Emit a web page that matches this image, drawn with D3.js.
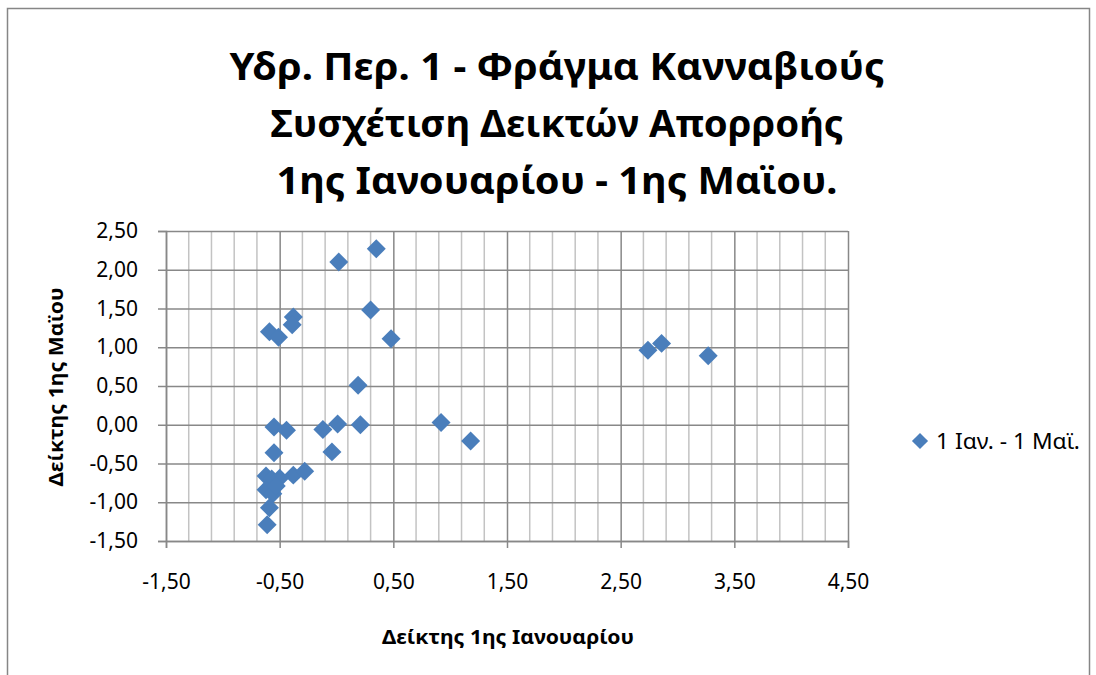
<!DOCTYPE html>
<html>
<head>
<meta charset="utf-8">
<script src="https://cdn.jsdelivr.net/npm/d3@7"></script>
<style>
  body { margin: 0; background: #fff; }
  text { font-family: "Noto Sans", "Open Sans", sans-serif; fill: #000; }
</style>
</head>
<body>
<div id="chart"></div>
<script>
// Data
const titleLines = ["Υδρ. Περ. 1 - Φράγμα Κανναβιούς", "Συσχέτιση Δεικτών Απορροής", "1ης Ιανουαρίου - 1ης Μαϊου."];
const xTitle = "Δείκτης 1ης Ιανουαρίου";
const yTitle = "Δείκτης 1ης Μαϊου";
const seriesName = "1 Ιαν. - 1 Μαϊ.";

const xValues = [0.02, 0.35, 0.30, 0.48, -0.38, -0.39, -0.59, -0.51, 0.19, 0.92, 1.18, 2.74, 2.86, 3.27,
    -0.55, -0.44, -0.55, -0.12, 0.01, 0.21, -0.04,
    -0.62, -0.57, -0.50, -0.38, -0.28, -0.62, -0.56, -0.53, -0.59, -0.61];
const yValues = [2.10, 2.27, 1.48, 1.11, 1.39, 1.29, 1.20, 1.13, 0.51, 0.03, -0.21, 0.96, 1.05, 0.89,
    -0.03, -0.07, -0.36, -0.06, 0.01, 0.00, -0.35,
    -0.66, -0.70, -0.69, -0.65, -0.60, -0.84, -0.89, -0.79, -1.07, -1.29];

const xTicks = [-1.5, -0.5, 0.5, 1.5, 2.5, 3.5, 4.5];
const yTicks = [-1.5, -1.0, -0.5, 0.0, 0.5, 1.0, 1.5, 2.0, 2.5];
const xMinorStep = 0.2;

const data = xValues.map((x, i) => ({ x: x, y: yValues[i] }));

// Layout
const W = 1096, H = 675;
const plot = { left: 166, right: 848, top: 231, bottom: 541 };
const blue = "#4a7ebb";

const locale = d3.formatLocale({ decimal: ",", thousands: ".", grouping: [3], currency: ["", "€"], minus: "-" });
const fmt = locale.format(".2f");

const svg = d3.select("#chart")
    .append("svg")
    .attr("width", W)
    .attr("height", H);

// chart frame
svg.append("rect")
    .attr("x", 7.5).attr("y", 8.5)
    .attr("width", 1082).attr("height", 720)
    .attr("fill", "#fff")
    .attr("stroke", "#868686")
    .attr("stroke-width", 1.5);

// Scales
const x = d3.scaleLinear().domain([-1.5, 4.5]).range([plot.left, plot.right]);
const y = d3.scaleLinear().domain([-1.5, 2.5]).range([plot.bottom, plot.top]);

// minor vertical grid
const minorX = d3.range(0, 31).map(i => -1.5 + i * xMinorStep).filter(v => !xTicks.some(t => Math.abs(t - v) < 1e-6));
svg.append("g")
    .selectAll("line")
    .data(minorX)
    .join("line")
    .attr("x1", d => x(d)).attr("x2", d => x(d))
    .attr("y1", plot.top).attr("y2", plot.bottom)
    .attr("stroke", "#c3c3c3")
    .attr("stroke-width", 1.5);

// major grid
svg.append("g")
    .attr("class", "grid")
    .attr("transform", `translate(0,${plot.bottom})`)
    .call(d3.axisBottom(x).tickValues(xTicks).tickSize(-(plot.bottom - plot.top)).tickFormat(""))
    .call(g => g.select(".domain").remove())
    .call(g => g.selectAll("line").attr("stroke", "#888").attr("stroke-width", 1.5));

svg.append("g")
    .attr("class", "grid")
    .attr("transform", `translate(${plot.left},0)`)
    .call(d3.axisLeft(y).tickValues(yTicks).tickSize(-(plot.right - plot.left)).tickFormat(""))
    .call(g => g.select(".domain").remove())
    .call(g => g.selectAll("line").attr("stroke", "#888").attr("stroke-width", 1.5));

// Axes
svg.append("g")
    .attr("transform", `translate(0,${plot.bottom})`)
    .call(d3.axisBottom(x).tickValues(xTicks).tickSize(7).tickPadding(26).tickFormat(fmt))
    .call(g => g.select(".domain").attr("stroke", "#888").attr("stroke-width", 1.5))
    .call(g => g.selectAll("line").attr("stroke", "#888").attr("stroke-width", 1.5))
    .call(g => g.selectAll("text").attr("font-size", 21).attr("font-family", "Noto Sans").attr("fill", "#000"));

svg.append("g")
    .attr("transform", `translate(${plot.left},0)`)
    .call(d3.axisLeft(y).tickValues(yTicks).tickSize(8).tickPadding(20).tickFormat(fmt))
    .call(g => g.select(".domain").attr("stroke", "#888").attr("stroke-width", 1.5))
    .call(g => g.selectAll("line").attr("stroke", "#888").attr("stroke-width", 1.5))
    .call(g => g.selectAll("text").attr("font-size", 21).attr("font-family", "Noto Sans").attr("fill", "#000"));

// Points (diamonds)
const diamond = d3.symbol().type(d3.symbolSquare).size(180);
svg.append("g")
    .selectAll("path")
    .data(data)
    .join("path")
    .attr("d", diamond)
    .attr("transform", d => `translate(${x(d.x)},${y(d.y)}) rotate(45)`)
    .attr("fill", blue);

// Title
const titleBase = [80, 137, 194];
const titleLen = [655, 573, 561];
svg.append("g")
    .selectAll("text")
    .data(titleLines)
    .join("text")
    .attr("x", 557)
    .attr("y", (d, i) => titleBase[i])
    .attr("text-anchor", "middle")
    .attr("font-size", 38)
    .attr("font-weight", "bold")
    .attr("textLength", (d, i) => titleLen[i])
    .attr("lengthAdjust", "spacingAndGlyphs")
    .text(d => d);

// Axis titles
svg.append("text")
    .attr("x", 508).attr("y", 644)
    .attr("text-anchor", "middle")
    .attr("font-size", 20)
    .attr("font-weight", "bold")
    .attr("textLength", 252)
    .attr("lengthAdjust", "spacingAndGlyphs")
    .text(xTitle);

svg.append("text")
    .attr("transform", `translate(63,387) rotate(-90)`)
    .attr("text-anchor", "middle")
    .attr("font-size", 20)
    .attr("font-weight", "bold")
    .attr("textLength", 199)
    .attr("lengthAdjust", "spacingAndGlyphs")
    .text(yTitle);

// Legend
svg.append("path")
    .attr("d", d3.symbol().type(d3.symbolSquare).size(130))
    .attr("transform", "translate(920,441) rotate(45)")
    .attr("fill", blue);

svg.append("text")
    .attr("x", 936).attr("y", 449)
    .attr("font-size", 21)
    .attr("textLength", 144)
    .attr("lengthAdjust", "spacingAndGlyphs")
    .text(seriesName);
</script>
</body>
</html>
